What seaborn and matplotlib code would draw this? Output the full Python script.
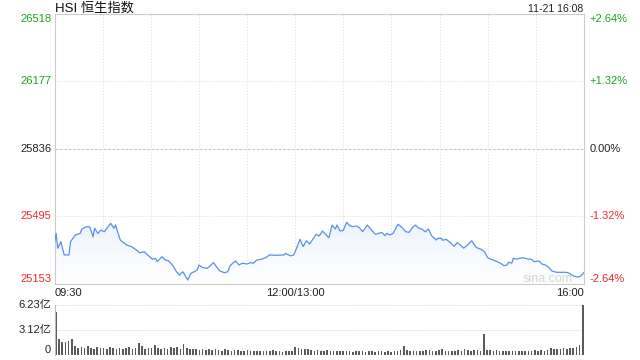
import numpy as np
import seaborn as sns
import matplotlib.pyplot as plt
import matplotlib.transforms as mtransforms
from matplotlib.patches import Polygon
from matplotlib.colors import LinearSegmentedColormap

sns.set_style("white")
plt.rcParams['font.family'] = ['Liberation Sans', 'Noto Sans CJK SC', 'DejaVu Sans']

# trading minutes since 09:30 (lunch break removed) and index level
minutes = [0, 1, 2, 4, 6, 9, 10, 13, 16, 17, 20, 22, 24, 25, 27, 29, 31, 35, 37, 38,
           41, 45, 48, 51, 53, 56, 58, 61, 63, 64, 67, 69, 71, 74, 76, 78, 80, 83, 85, 87,
           89, 90, 92, 95, 97, 99, 101, 103, 106, 108, 109, 111, 113, 115, 117, 120, 122, 124, 126, 129,
           132, 134, 138, 143, 144, 147, 149, 150, 153, 155, 157, 159, 163, 165, 167, 169, 171, 173, 175, 176,
           178, 180, 182, 184, 186, 188, 190, 192, 195, 197, 200, 202, 204, 206, 207, 209, 211, 214, 216, 219,
           221, 223, 225, 227, 229, 231, 233, 235, 238, 239, 241, 242, 244, 246, 249, 251, 253, 255, 257, 260,
           261, 263, 266, 268, 270, 272, 275, 278, 280, 282, 283, 285, 286, 288, 290, 292, 295, 297, 299, 302,
           304, 306, 308, 310, 313, 316, 319, 321, 323, 326, 328, 330]
prices = [25360, 25409, 25334, 25367, 25300, 25300, 25367, 25401, 25409, 25430, 25443, 25441, 25392, 25435, 25409, 25426, 25417, 25460, 25435, 25451,
          25375, 25350, 25342, 25325, 25311, 25316, 25300, 25278, 25283, 25266, 25291, 25274, 25271, 25244, 25215, 25198, 25215, 25173, 25207, 25215,
          25224, 25249, 25237, 25232, 25244, 25261, 25240, 25219, 25210, 25215, 25240, 25258, 25269, 25249, 25258, 25254, 25261, 25258, 25274, 25278,
          25288, 25300, 25298, 25300, 25308, 25295, 25300, 25316, 25379, 25342, 25372, 25355, 25404, 25396, 25421, 25404, 25387, 25451, 25431, 25451,
          25421, 25424, 25465, 25448, 25443, 25446, 25438, 25417, 25451, 25431, 25404, 25409, 25414, 25397, 25409, 25401, 25409, 25455, 25443, 25417,
          25414, 25438, 25451, 25435, 25431, 25417, 25431, 25397, 25375, 25384, 25384, 25374, 25379, 25367, 25344, 25362, 25350, 25334, 25347, 25372,
          25359, 25337, 25328, 25316, 25286, 25278, 25269, 25258, 25246, 25249, 25263, 25258, 25283, 25279, 25283, 25286, 25279, 25279, 25266, 25269,
          25253, 25249, 25237, 25219, 25212, 25212, 25212, 25207, 25195, 25188, 25193, 25212]
assert len(minutes) == len(prices)

# volume (亿) every 2 minutes
vol_minutes = list(range(0, 331, 2))
volumes = [5.26, 1.97, 1.56, 1.64, 1.73, 1.97, 1.1, 0.9, 1.0, 0.85,
           1.05, 0.9, 0.8, 0.95, 0.85, 0.9, 0.8, 0.95, 0.85, 0.75,
           0.9, 0.8, 0.85, 0.95, 0.8, 0.9, 1.45, 1.15, 0.8, 0.85,
           0.9, 1.2, 0.85, 0.8, 0.9, 0.75, 0.95, 0.85, 1.0, 0.8,
           1.3, 0.9, 0.75, 0.8, 0.7, 0.65, 0.75, 0.6, 0.7, 0.65,
           0.75, 0.6, 0.55, 0.7, 0.6, 0.55, 0.65, 0.6, 0.5, 0.55,
           0.6, 0.5, 0.55, 0.45, 0.5, 0.55, 0.45, 0.5, 0.6, 0.45,
           0.5, 0.4, 0.5, 0.45, 0.55, 1.0, 0.85, 0.8, 0.7, 0.75,
           0.6, 0.55, 0.6, 0.5, 0.55, 0.6, 0.45, 0.5, 0.55, 0.45,
           0.5, 0.45, 0.55, 0.4, 0.5, 0.45, 0.55, 0.4, 0.45, 0.5,
           0.4, 0.45, 0.5, 0.4, 0.45, 0.4, 0.5, 0.55, 0.6, 1.15,
           0.6, 0.5, 0.45, 0.55, 0.5, 0.45, 0.6, 0.65, 0.5, 0.45,
           0.6, 0.7, 0.55, 0.45, 0.5, 0.55, 0.6, 0.5, 0.7, 0.6,
           0.55, 0.65, 0.6, 0.55, 2.55, 0.65, 0.6, 0.55, 0.6, 0.5,
           0.55, 0.5, 0.45, 0.5, 0.55, 0.5, 0.45, 0.5, 0.55, 0.5,
           0.6, 0.55, 0.6, 0.55, 0.65, 0.85, 0.75, 0.8, 0.75, 0.85,
           0.8, 0.9, 0.85, 0.95, 1.2, 6.2]
assert len(vol_minutes) == len(volumes)

y_ticks = [26518, 26177, 25836, 25495, 25153]
pct_labels = ['+2.64%', '+1.32%', '0.00%', '-1.32%', '-2.64%']
x_ticks = [0, 150, 330]
x_labels = ['09:30', '12:00/13:00', '16:00']
grid_minutes = [30, 60, 90, 120, 150, 180, 210, 240, 270, 300]
vol_ticks = [6.23, 3.12, 0]
vol_labels = ['6.23亿', '3.12亿', '0']

GREEN = '#1ea11e'
RED = '#ee2a2a'
GRID = '#d8d8d8'
tick_colors = [GREEN, GREEN, '#222222', RED, RED]
tick_va = ['top', 'center', 'center', 'center', 'bottom']

W, H = 640, 360
def fx(px): return px / W
def fy(py): return 1 - py / H

fig = plt.figure(figsize=(6.4, 3.6), dpi=100)
ax = fig.add_axes([fx(54.5), fy(284), (584 - 54.5) / W, 270 / H])
vax = fig.add_axes([fx(54.5), fy(355), (584 - 54.5) / W, 50.5 / H])

# price line with faint gradient fill
base = y_ticks[-1]
grad = np.linspace(1, 0, 256).reshape(-1, 1)
cmap = LinearSegmentedColormap.from_list('fill', ['#ffffff', '#edf3fd'])
im = ax.imshow(grad, extent=[0, 330, base, max(prices)], aspect='auto',
               cmap=cmap, origin='upper', zorder=1)
patch = Polygon([(minutes[0], base)] + list(zip(minutes, prices)) + [(minutes[-1], base)],
                closed=True, facecolor='none', edgecolor='none')
ax.add_patch(patch)
im.set_clip_path(patch)

sns.lineplot(x=minutes, y=prices, ax=ax, color='#5890ee', linewidth=0.9,
             estimator=None, sort=False, zorder=3)

ax.set_xlim(0, 330)
ax.set_ylim(y_ticks[-1], y_ticks[0])
ax.set_xticks([])
ax.set_yticks([])
ax.set_xlabel('')
ax.set_ylabel('')
for s in ax.spines.values():
    s.set_color('#cccccc')
    s.set_linewidth(0.8)

for v in y_ticks[1:-1]:
    if v == 25836:
        ax.axhline(v, color='#c4c4c4', lw=0.7, ls=(0, (3, 1.5)), zorder=0)
    else:
        ax.axhline(v, color=GRID, lw=0.7, ls=(0, (1, 2)), zorder=0)
for m in grid_minutes:
    ax.axvline(m, color=GRID, lw=0.7, ls=(0, (1, 2)), zorder=0)

ltrans = mtransforms.blended_transform_factory(fig.transFigure, ax.transData)
for v, lab, c, va in zip(y_ticks, pct_labels, tick_colors, tick_va):
    ax.text(fx(51.5), v, str(v), transform=ltrans, ha='right', va=va, color=c, fontsize=8)
    ax.text(fx(589.5), v, lab, transform=ltrans, ha='left', va=va, color=c, fontsize=8)

xtrans = mtransforms.blended_transform_factory(ax.transData, fig.transFigure)
for m, lab, ha in zip(x_ticks, x_labels, ['left', 'center', 'right']):
    fig.text(m, fy(293.5), lab, transform=xtrans, ha=ha, va='center', color='#222222', fontsize=8)

fig.text(fx(55), fy(8.5), 'HSI 恒生指数', ha='left', va='center', fontsize=9.5, color='#111111')
fig.text(fx(583), fy(8.5), '11-21 16:08', ha='right', va='center', fontsize=7.5, color='#222222')
ax.text(fx(573), fy(279), 'sina.com', transform=fig.transFigure, ha='right', va='center',
        fontsize=9, color='#d4d4d4', zorder=4)

# volume panel
sns.barplot(x=vol_minutes, y=volumes, ax=vax, native_scale=True, color='#5a5a5a',
            saturation=1, width=0.5, errorbar=None, linewidth=0)
vax.set_xlim(-0.8, 330.8)
vax.set_ylim(0, 6.23)
vax.set_xticks([])
vax.set_yticks([])
vax.set_xlabel('')
vax.set_ylabel('')
for name, s in vax.spines.items():
    s.set_visible(name == 'left')
    s.set_color('#bbbbbb')
    s.set_linewidth(0.8)
for v in vol_ticks[:2]:
    vax.axhline(v, color=GRID, lw=0.7, ls=(0, (1, 1)), zorder=0, clip_on=False)

vtrans = mtransforms.blended_transform_factory(fig.transFigure, vax.transData)
for v, lab, va in zip(vol_ticks, vol_labels, ['center', 'center', 'bottom']):
    vax.text(fx(51), v, lab, transform=vtrans, ha='right', va=va, color='#222222', fontsize=8)

plt.savefig('out.png', dpi=100)
